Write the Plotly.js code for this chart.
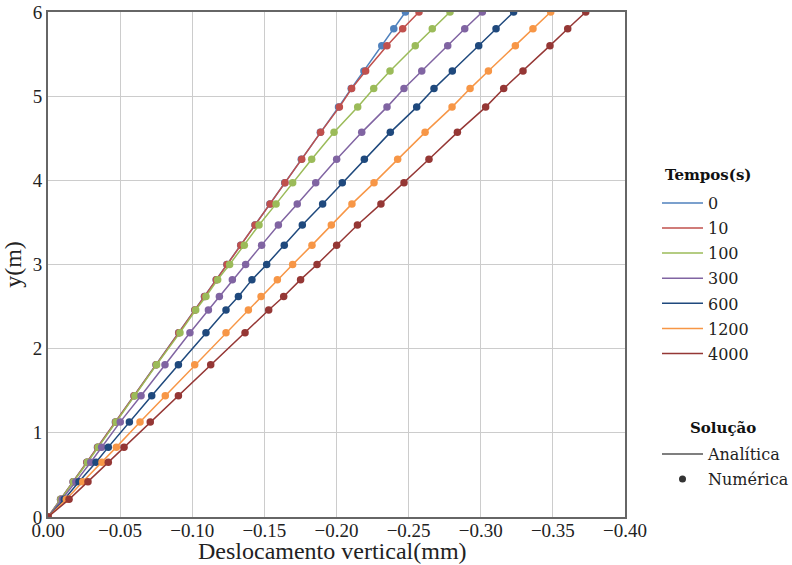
<!DOCTYPE html>
<html>
<head>
<meta charset="utf-8">
<script src="https://cdn.plot.ly/plotly-3.0.1.min.js"></script>
<style>
  html, body { margin: 0; padding: 0; background: #ffffff; }
  #chart { width: 792px; height: 565px; }
</style>
</head>
<body>
<div id="chart"></div>
<script>
// Node heights (m)
const alturas = [0, 0.21, 0.42, 0.65, 0.83, 1.13, 1.44, 1.81, 2.19, 2.46, 2.62, 2.82, 3.00,
                 3.23, 3.47, 3.72, 3.97, 4.25, 4.57, 4.87, 5.09, 5.30, 5.60, 5.80, 6.00];

// Time labels (s)
const tempos = ['0', '10', '100', '300', '600', '1200', '4000'];

// Vertical displacement (mm) at each node, per time
const desl_0 = [0, -0.0087, -0.0174, -0.0269, -0.0343, -0.0467, -0.0596, -0.0749, -0.0906, -0.1018,
                -0.1084, -0.1166, -0.1240, -0.1336, -0.1435, -0.1538, -0.1641, -0.1756, -0.1888,
                -0.2014, -0.2102, -0.2190, -0.2314, -0.2397, -0.2478];
const desl_10 = [0, -0.0088, -0.0175, -0.0270, -0.0345, -0.0469, -0.0597, -0.0750, -0.0907, -0.1019,
                 -0.1086, -0.1167, -0.1241, -0.1337, -0.1436, -0.1540, -0.1643, -0.1759, -0.1890,
                 -0.2020, -0.2105, -0.2202, -0.2350, -0.2459, -0.2572];
const desl_100 = [0, -0.0090, -0.0178, -0.0274, -0.0349, -0.0472, -0.0603, -0.0753, -0.0915, -0.1024,
                  -0.1095, -0.1176, -0.1259, -0.1361, -0.1463, -0.1581, -0.1696, -0.1828, -0.1983,
                  -0.2147, -0.2258, -0.2371, -0.2546, -0.2664, -0.2787];
const desl_300 = [0, -0.0098, -0.0193, -0.0296, -0.0372, -0.0501, -0.0645, -0.0811, -0.0984, -0.1112,
                  -0.1188, -0.1278, -0.1370, -0.1481, -0.1597, -0.1728, -0.1856, -0.2001, -0.2175,
                  -0.2350, -0.2468, -0.2591, -0.2771, -0.2889, -0.3011];
const desl_600 = [0, -0.0113, -0.0215, -0.0333, -0.0418, -0.0564, -0.0719, -0.0904, -0.1095, -0.1234,
                  -0.1320, -0.1414, -0.1516, -0.1638, -0.1763, -0.1904, -0.2040, -0.2193, -0.2373,
                  -0.2556, -0.2676, -0.2803, -0.2986, -0.3106, -0.3228];
const desl_1200 = [0, -0.0127, -0.0241, -0.0374, -0.0474, -0.0638, -0.0813, -0.1017, -0.1234, -0.1389,
                   -0.1477, -0.1590, -0.1696, -0.1830, -0.1964, -0.2107, -0.2260, -0.2424, -0.2614,
                   -0.2801, -0.2926, -0.3053, -0.3240, -0.3362, -0.3485];
const desl_4000 = [0, -0.0146, -0.0277, -0.0418, -0.0527, -0.0709, -0.0904, -0.1128, -0.1366, -0.1530,
                   -0.1634, -0.1751, -0.1865, -0.2001, -0.2145, -0.2308, -0.2468, -0.2641, -0.2838,
                   -0.3034, -0.3159, -0.3293, -0.3480, -0.3603, -0.3728];

const series = [desl_0, desl_10, desl_100, desl_300, desl_600, desl_1200, desl_4000];
const cores = ['#4f81bd', '#c0504d', '#9bbb59', '#8064a2', '#1f497d', '#f79646', '#953735'];

const serif = 'DejaVu Serif, serif';
const tickFont = 'Liberation Serif, Times New Roman, serif';

const traces = [];
series.forEach((xs, i) => {
  // analytic curve
  traces.push({
    x: xs, y: alturas, type: 'scatter', mode: 'lines',
    name: tempos[i], legend: 'legend', legendgroup: 't' + i,
    line: { color: cores[i], width: 1.5 },
    hoverinfo: 'skip'
  });
  // numerical nodes
  traces.push({
    x: xs, y: alturas, type: 'scatter', mode: 'markers',
    name: tempos[i], showlegend: false, legendgroup: 't' + i,
    marker: { color: cores[i], size: 7.5 }
  });
});

// Solution-type key
traces.push({
  x: [null], y: [null], type: 'scatter', mode: 'lines',
  name: 'Analítica', legend: 'legend2', legendgroup: 'sa',
  line: { color: '#555555', width: 1.5 }
});
traces.push({
  x: [null], y: [null], type: 'scatter', mode: 'markers',
  name: 'Numérica', legend: 'legend2', legendgroup: 'sn',
  marker: { color: '#333333', size: 7 }
});

const legendBase = {
  xref: 'container', yref: 'container', xanchor: 'left', yanchor: 'top',
  bgcolor: 'rgba(0,0,0,0)', borderwidth: 0, itemwidth: 41,
  font: { family: serif, size: 16, color: '#222222' },
  tracegroupgap: 1.3
};

const layout = {
  width: 792, height: 565,
  margin: { l: 48, r: 167, t: 12, b: 48 },
  paper_bgcolor: '#ffffff', plot_bgcolor: '#ffffff',
  showlegend: true,
  xaxis: {
    range: [0, -0.40], dtick: 0.05, tick0: 0, tickformat: '.2f',
    showgrid: true, gridcolor: '#cccccc', gridwidth: 1,
    zeroline: false, showline: true, mirror: true, linecolor: '#666666', linewidth: 2,
    ticks: '', ticklabelstandoff: -5,
    tickfont: { family: tickFont, size: 19, color: '#222222' }
  },
  yaxis: {
    range: [0, 6], dtick: 1,
    showgrid: true, gridcolor: '#cccccc', gridwidth: 1,
    zeroline: false, showline: true, mirror: true, linecolor: '#666666', linewidth: 2,
    ticks: '', tickfont: { family: tickFont, size: 19, color: '#222222' },
    title: { text: 'y(m)', font: { family: tickFont, size: 24, color: '#222222' }, standoff: 8 }
  },
  legend: Object.assign({}, legendBase, { x: 657 / 792, y: 1 - 186 / 565 }),
  legend2: Object.assign({}, legendBase, { x: 657 / 792, y: 1 - 437 / 565 }),
  annotations: [
    // x-axis title, placed below the tick labels
    { text: 'Deslocamento vertical(mm)', xref: 'paper', yref: 'paper',
      x: (332 - 48) / 577, y: (517 - 566) / 505, xanchor: 'center', yanchor: 'bottom',
      showarrow: false, font: { family: tickFont, size: 24, color: '#222222' } },
    { text: '<b>Tempos(s)</b>', xref: 'paper', yref: 'paper',
      x: (663 - 48) / 577, y: (517 - 175) / 505, xanchor: 'left', yanchor: 'middle',
      showarrow: false, font: { family: serif, size: 15, color: '#111111' } },
    { text: '<b>Solução</b>', xref: 'paper', yref: 'paper',
      x: (723 - 48) / 577, y: (517 - 428) / 505, xanchor: 'center', yanchor: 'middle',
      showarrow: false, font: { family: serif, size: 15, color: '#111111' } }
  ]
};

Plotly.newPlot('chart', traces, layout, { displayModeBar: false, staticPlot: true });
</script>
</body>
</html>
